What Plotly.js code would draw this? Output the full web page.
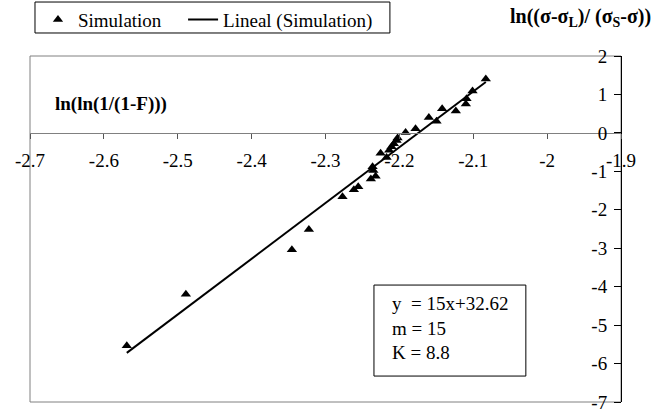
<!DOCTYPE html>
<html><head><meta charset="utf-8">
<script src="https://cdn.plot.ly/plotly-3.0.1.min.js"></script>
<style>html,body{margin:0;padding:0;background:#fff}</style>
</head><body>
<div id="chart" style="width:670px;height:413px"></div>
<script>
const simX = [-2.569, -2.489, -2.3455, -2.3225, -2.277, -2.2616, -2.2557, -2.2386, -2.2322, -2.2363, -2.2352, -2.2254, -2.2173, -2.2138, -2.2106, -2.2075, -2.2038, -2.2024, -2.1916, -2.1781, -2.1601, -2.1497, -2.1421, -2.1236, -2.110, -2.1091, -2.101, -2.083];
const simY = [-5.54, -4.20, -3.04, -2.51, -1.66, -1.48, -1.40, -1.20, -1.13, -0.88, -0.98, -0.53, -0.64, -0.45, -0.36, -0.28, -0.20, -0.13, 0.01, 0.11, 0.40, 0.30, 0.63, 0.57, 0.75, 0.89, 1.09, 1.40];
const xTickVals = [-2.7, -2.6, -2.5, -2.4, -2.3, -2.2, -2.1, -2.0, -1.9];
const xTickText = ['-2.7', '-2.6', '-2.5', '-2.4', '-2.3', '-2.2', '-2.1', '-2', '-1.9'];
const yTickVals = [-7, -6, -5, -4, -3, -2, -1, 0, 1, 2];
const yTickText = ['-7', '-6', '-5', '-4', '-3', '-2', '-1', '0', '1', '2'];
const seriesName = 'Simulation';
const fitName = 'Lineal (Simulation)';
const eqLines = ['y\u00a0 = 15x+32.62', 'm = 15', 'K = 8.8'];
const xTitle = 'ln(ln(1/(1-F)))';
const yTitle = 'ln((σ-σ<sub>L</sub>)/ (σ<sub>S</sub>-σ))';

// least-squares linear trend line (as Excel "Lineal")
const n = simX.length;
const mx = simX.reduce((a, b) => a + b, 0) / n;
const my = simY.reduce((a, b) => a + b, 0) / n;
let sxy = 0, sxx = 0;
for (let i = 0; i < n; i++) { sxy += (simX[i] - mx) * (simY[i] - my); sxx += (simX[i] - mx) ** 2; }
const slope = sxy / sxx, icpt = my - slope * mx;
const fitX = [Math.min(...simX), Math.max(...simX)];
const fitY = fitX.map(v => slope * v + icpt);

const FONT = "'Liberation Serif', 'Times New Roman', Times, serif";

const traces = [
  {x: simX, y: simY, type: 'scatter', mode: 'markers', name: seriesName, legend: 'legend',
   marker: {symbol: 'triangle-up', size: 9, color: '#000'}},
  {x: fitX, y: fitY, type: 'scatter', mode: 'lines', name: fitName, legend: 'legend2',
   line: {color: '#000', width: 2}}
];

const legendBase = {orientation: 'h', xanchor: 'left', y: 1.16, yanchor: 'top',
  borderwidth: 0, bgcolor: 'rgba(0,0,0,0)', font: {family: FONT, size: 19, color: '#000'}};

const layout = {
  width: 670, height: 413,
  margin: {l: 30, r: 49, t: 56, b: 11, autoexpand: false},
  paper_bgcolor: '#fff', plot_bgcolor: '#fff',
  font: {family: FONT, size: 19, color: '#000'},
  showlegend: true,
  legend: Object.assign({}, legendBase, {x: 0.0135}),
  legend2: Object.assign({}, legendBase, {x: 0.259}),
  xaxis: {range: [-2.7, -1.9], tickvals: xTickVals, ticktext: xTickText,
    anchor: 'free', position: 7 / 9, showline: true, linecolor: '#808080', linewidth: 1,
    ticks: 'outside', ticklen: 5, tickcolor: '#555', ticklabelstandoff: 5,
    showgrid: false, zeroline: false, tickfont: {family: FONT, size: 19, color: '#000'}},
  yaxis: {range: [-7, 2], tickvals: yTickVals, ticktext: yTickText, side: 'left',
    anchor: 'free', position: 1,
    ticks: 'outside', ticklen: 7, tickcolor: '#000', ticklabelstandoff: 3,
    showline: true, linecolor: '#000', linewidth: 1, showgrid: false, zeroline: false,
    tickfont: {family: FONT, size: 19, color: '#000'}},
  shapes: [
    {type: 'rect', xref: 'paper', yref: 'paper', x0: 0, x1: 1, y0: 0, y1: 1,
     line: {color: '#808080', width: 1}, layer: 'below'},
    {type: 'rect', xref: 'paper', yref: 'paper', x0: 0.582, x1: 0.839, y0: 0.075, y1: 0.338,
     line: {color: '#000', width: 1}, fillcolor: '#fff', layer: 'above'},
    {type: 'rect', xref: 'paper', yref: 'paper', x0: 0.00846, x1: 0.609, y0: 1.0665, y1: 1.156,
     line: {color: '#000', width: 1}, layer: 'above'}
  ],
  annotations: [
    {xref: 'paper', yref: 'paper', x: 0.609, y: 0.215, xanchor: 'left', yanchor: 'middle',
     align: 'left', showarrow: false, text: eqLines.join('<br>'),
     font: {family: FONT, size: 19, color: '#000'}},
    {xref: 'paper', yref: 'paper', x: 0.039, y: 0.861, xanchor: 'left', yanchor: 'middle',
     showarrow: false, text: '<b>' + xTitle + '</b>', font: {family: FONT, size: 19, color: '#000'}},
    {xref: 'paper', yref: 'paper', x: 0.931, y: 1.11, xanchor: 'center', yanchor: 'middle',
     showarrow: false, text: '<b>' + yTitle + '</b>', font: {family: FONT, size: 20, color: '#000'}}
  ]
};

Plotly.newPlot('chart', traces, layout, {displayModeBar: false, staticPlot: true});
</script>
</body></html>
